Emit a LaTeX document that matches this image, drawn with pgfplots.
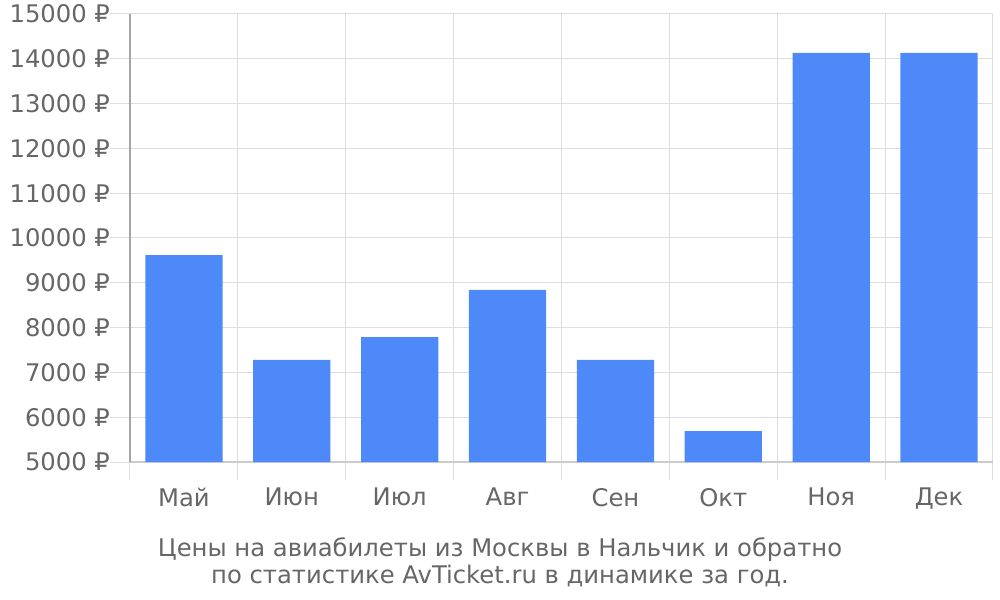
\documentclass[border=0pt]{standalone}
\usepackage{fontspec}
\setmainfont{DejaVu Sans}
\usepackage{pgfplots}
\pgfplotsset{compat=1.18}
\definecolor{barc}{HTML}{4D89F9}
\definecolor{txt}{HTML}{666666}
\definecolor{gridc}{HTML}{DDDDDD}
\begin{document}
\begin{tikzpicture}
\useasboundingbox (-97.5pt,-103.5pt) rectangle (652.5pt,346.5pt);
\begin{axis}[
    scale only axis,
    width=647.25pt, height=336pt,
    xmin=-0.5, xmax=7.5, ymin=5000, ymax=15000,
    ybar, bar width=58pt,
    xtick={0,...,7},
    xticklabels={Май,Июн,Июл,Авг,Сен,Окт,Ноя,Дек},
    minor xtick={-0.5,0.5,...,7.5},
    ytick={5000,6000,...,15000},
    scaled y ticks=false,
    yticklabel={\pgfmathparse{int(round(\tick))}\pgfmathresult~₽},
    axis lines=left,
    axis line style={-},
    x axis line style={draw=black!20, line width=0.9pt},
    y axis line style={draw=black!35, line width=0.9pt},
    ymajorgrids, xminorgrids,
    grid style={gridc, line width=0.75pt},
    tick align=outside,
    major tick length=15pt,
    minor tick length=13.5pt,
    major x tick style={draw=none},
    minor x tick style={gridc, line width=0.75pt},
    ytick style={gridc, line width=0.75pt},
    tick label style={txt, font=\fontsize{18.2}{22}\selectfont},
    y tick label style={xshift=3.5pt},
    x tick label style={yshift=-1pt},
]
\addplot[fill=barc, draw=none] coordinates {
    (0,9620) (1,7277) (2,7790) (3,8840) (4,7277) (5,5690) (6,14130) (7,14130)};
\end{axis}
\node[txt, anchor=base, font=\fontsize{18.2}{22}\selectfont] at (277.5pt,-70.5pt)
    {Цены на авиабилеты из Москвы в Нальчик и обратно};
\node[txt, anchor=base, font=\fontsize{18.2}{22}\selectfont] at (277.5pt,-90.75pt)
    {по статистике AvTicket.ru в динамике за год.};
\end{tikzpicture}
\end{document}
